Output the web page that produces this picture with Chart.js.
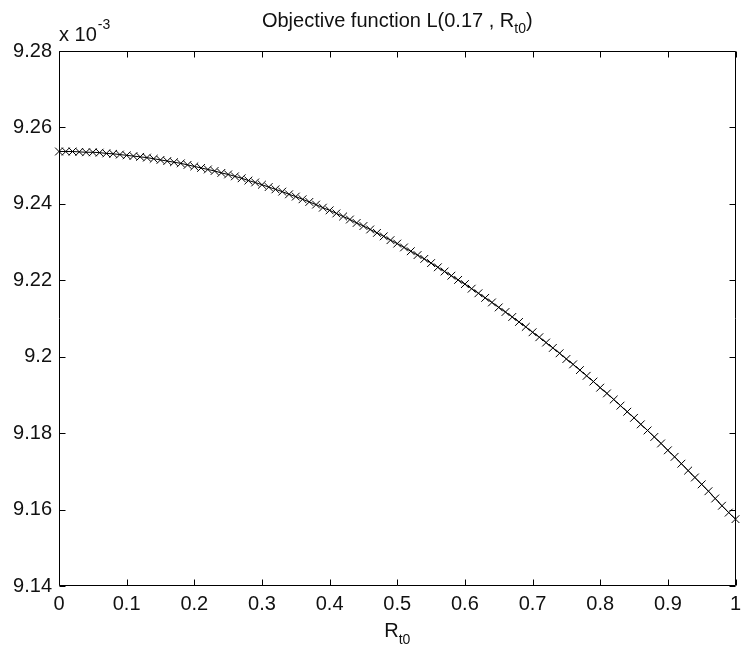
<!DOCTYPE html>
<html>
<head>
<meta charset="utf-8">
<script src="https://cdn.jsdelivr.net/npm/chart.js@4/dist/chart.umd.min.js"></script>
<style>
html,body{margin:0;padding:0;background:#fff;}
#wrap{width:742px;height:655px;position:relative;}
</style>
</head>
<body>
<div id="wrap"><canvas id="c"></canvas></div>
<script>
// R_t0 sample positions
const rValues = [
  0.00,0.01,0.02,0.03,0.04,0.05,0.06,0.07,0.08,0.09,
  0.10,0.11,0.12,0.13,0.14,0.15,0.16,0.17,0.18,0.19,
  0.20,0.21,0.22,0.23,0.24,0.25,0.26,0.27,0.28,0.29,
  0.30,0.31,0.32,0.33,0.34,0.35,0.36,0.37,0.38,0.39,
  0.40,0.41,0.42,0.43,0.44,0.45,0.46,0.47,0.48,0.49,
  0.50,0.51,0.52,0.53,0.54,0.55,0.56,0.57,0.58,0.59,
  0.60,0.61,0.62,0.63,0.64,0.65,0.66,0.67,0.68,0.69,
  0.70,0.71,0.72,0.73,0.74,0.75,0.76,0.77,0.78,0.79,
  0.80,0.81,0.82,0.83,0.84,0.85,0.86,0.87,0.88,0.89,
  0.90,0.91,0.92,0.93,0.94,0.95,0.96,0.97,0.98,0.99,
  1.00
];
// Objective L(0.17, R_t0), in units of 1e-3
const lossValues = [
  9.2537,9.2537,9.2537,9.2536,9.2535,9.2535,9.2534,9.2532,9.2531,9.2529,
  9.2527,9.2525,9.2523,9.2521,9.2518,9.2515,9.2512,9.2509,9.2506,9.2502,
  9.2498,9.2494,9.2490,9.2486,9.2481,9.2477,9.2472,9.2467,9.2461,9.2456,
  9.2450,9.2444,9.2438,9.2432,9.2425,9.2419,9.2412,9.2405,9.2398,9.2390,
  9.2383,9.2375,9.2367,9.2359,9.2350,9.2342,9.2333,9.2324,9.2315,9.2305,
  9.2296,9.2286,9.2276,9.2266,9.2256,9.2245,9.2234,9.2223,9.2212,9.2201,
  9.2190,9.2178,9.2166,9.2154,9.2142,9.2129,9.2117,9.2104,9.2091,9.2078,
  9.2064,9.2051,9.2037,9.2023,9.2009,9.1994,9.1980,9.1965,9.1950,9.1935,
  9.1919,9.1904,9.1888,9.1872,9.1856,9.1840,9.1823,9.1807,9.1790,9.1773,
  9.1755,9.1738,9.1720,9.1702,9.1684,9.1666,9.1648,9.1629,9.1610,9.1592,
  9.1575
];
const xTicks = [0,0.1,0.2,0.3,0.4,0.5,0.6,0.7,0.8,0.9,1];
const xTickLabels = ["0","0.1","0.2","0.3","0.4","0.5","0.6","0.7","0.8","0.9","1"];
const yTicks = [9.14,9.16,9.18,9.2,9.22,9.24,9.26,9.28];
const yTickLabels = ["9.14","9.16","9.18","9.2","9.22","9.24","9.26","9.28"];
const titleMain = "Objective function L(0.17 , R";
const titleSub = "t0";
const titleEnd = ")";
const xTitleMain = "R";
const xTitleSub = "t0";
const expBase = "x 10";
const expSup = "-3";

const FONT = '"Liberation Sans", Arial, sans-serif';
const TEXT = '#111';

const points = rValues.map((r, i) => ({x: r, y: lossValues[i]}));

const matlabPlugin = {
  id: 'matlabAxes',
  afterDatasetsDraw(chart) {
    const ctx = chart.ctx;
    const a = chart.chartArea;
    const xs = chart.scales.x, ys = chart.scales.y;
    const L = Math.round(a.left) + 0.5, R = Math.round(a.right) - 0.5;
    const T = Math.round(a.top) + 0.5, B = Math.round(a.bottom) - 0.5;
    ctx.save();
    ctx.strokeStyle = '#000';
    ctx.lineWidth = 1;
    ctx.beginPath();
    ctx.rect(L, T, R - L, B - T);
    const tl = 6;
    xTicks.forEach(v => {
      const px = Math.round(xs.getPixelForValue(v)) + 0.5;
      ctx.moveTo(px, B); ctx.lineTo(px, B - tl);
      ctx.moveTo(px, T); ctx.lineTo(px, T + tl);
    });
    yTicks.forEach(v => {
      const py = Math.round(ys.getPixelForValue(v)) + 0.5;
      ctx.moveTo(L, py); ctx.lineTo(L + tl, py);
      ctx.moveTo(R, py); ctx.lineTo(R - tl, py);
    });
    ctx.stroke();

    // Title with subscript
    ctx.fillStyle = TEXT;
    ctx.textBaseline = 'alphabetic';
    ctx.textAlign = 'left';
    const big = '20px ' + FONT, small = '14px ' + FONT;
    ctx.font = big; const w1 = ctx.measureText(titleMain).width; const w3 = ctx.measureText(titleEnd).width;
    ctx.font = small; const w2 = ctx.measureText(titleSub).width;
    const cx = (a.left + a.right) / 2;
    let tx = cx - (w1 + w2 + w3) / 2;
    const tb = 27;
    ctx.font = big; ctx.fillText(titleMain, tx, tb); tx += w1;
    ctx.font = small; ctx.fillText(titleSub, tx, tb + 6); tx += w2;
    ctx.font = big; ctx.fillText(titleEnd, tx, tb);

    // x-axis title with subscript
    ctx.font = big; const r1 = ctx.measureText(xTitleMain).width;
    ctx.font = small; const r2 = ctx.measureText(xTitleSub).width;
    let rx = cx - (r1 + r2) / 2;
    const rb = 637;
    ctx.font = big; ctx.fillText(xTitleMain, rx, rb); rx += r1;
    ctx.font = small; ctx.fillText(xTitleSub, rx, rb + 7);

    // exponent label
    ctx.font = big;
    const e1 = ctx.measureText(expBase).width;
    ctx.fillText(expBase, 59, 41);
    ctx.font = small;
    ctx.fillText(expSup, 59 + e1 + 1, 29);
    ctx.restore();
  }
};

new Chart(document.getElementById('c'), {
  type: 'line',
  data: {
    datasets: [{
      data: points,
      borderColor: '#000',
      borderWidth: 1,
      pointStyle: 'crossRot',
      pointRadius: 5.5,
      pointBorderColor: '#000',
      pointBorderWidth: 1,
      pointBackgroundColor: '#000',
      tension: 0,
      clip: false
    }]
  },
  options: {
    responsive: true,
    maintainAspectRatio: false,
    animation: false,
    devicePixelRatio: 1,
    layout: { padding: { left: 0, top: 51, right: 4, bottom: 0 } },
    plugins: { legend: { display: false }, tooltip: { enabled: false }, title: { display: false } },
    scales: {
      x: {
        type: 'linear',
        min: 0, max: 1,
        grid: { display: false, drawTicks: false },
        border: { display: false },
        afterBuildTicks: s => { s.ticks = xTicks.map(v => ({ value: v })); },
        afterFit: s => { s.height = 69; s.paddingLeft = 0; s.paddingRight = 0; },
        ticks: {
          padding: 6,
          color: TEXT,
          font: { family: FONT, size: 20 },
          maxRotation: 0,
          autoSkip: false,
          callback: (v, i) => xTickLabels[i]
        }
      },
      y: {
        type: 'linear',
        min: 9.14, max: 9.28,
        grid: { display: false, drawTicks: false },
        border: { display: false },
        afterBuildTicks: s => { s.ticks = yTicks.map(v => ({ value: v })); },
        afterFit: s => { s.width = 59; s.paddingTop = 0; s.paddingBottom = 0; },
        ticks: {
          padding: 7,
          color: TEXT,
          font: { family: FONT, size: 20 },
          autoSkip: false,
          callback: (v, i) => yTickLabels[i]
        }
      }
    }
  },
  plugins: [matlabPlugin]
});
</script>
</body>
</html>
